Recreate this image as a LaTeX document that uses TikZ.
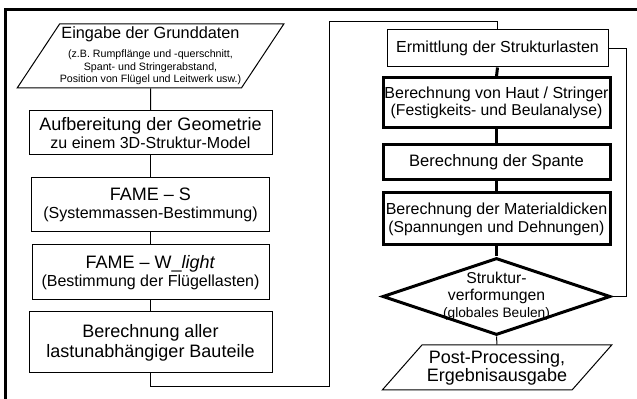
\documentclass[tikz,border=0pt]{standalone}
\usepackage{fontspec}
\setmainfont{Liberation Sans}
\usetikzlibrary{shapes.geometric}

\tikzset{every picture/.style={line width=0.75pt}}
\tikzset{
  stepbox/.style={draw, rectangle, inner sep=0pt, align=center},
  heavybox/.style={stepbox, line width=2.25pt},
  iobox/.style={draw, trapezium, trapezium stretches=true, inner sep=0pt, align=center},
  heavyline/.style={line width=2.25pt},
}

\begin{document}
\begin{tikzpicture}[x=0.75pt,y=0.75pt,yscale=-1,xscale=1]
\useasboundingbox (0,0) rectangle (637,399);
\clip (0,0) rectangle (637,399);

%Frame
\draw [line width=2.25pt] (5,10) rectangle (660,420);

%Left column
\node [iobox, trapezium left angle=53.7, trapezium right angle=126.3, minimum width=200.25pt, minimum height=48pt, font=\fontsize{8}{9.4}\selectfont] (eingabe) at (150.5,56)
  {{\fontsize{12.2}{14}\selectfont Eingabe der Grunddaten}\\[4.5pt](z.B. Rumpflänge und -querschnitt,\\Spant- und Stringerabstand,\\Position von Flügel und Leitwerk usw.)};
\node [stepbox, minimum width=182.25pt, minimum height=33pt, font=\fontsize{12}{13}\selectfont] (aufb) at (150.5,133)
  {{\fontsize{13.5}{15}\selectfont Aufbereitung der Geometrie}\\zu einem 3D-Struktur-Model};
\node [stepbox, minimum width=178.5pt, minimum height=40.5pt, font=\fontsize{12}{13}\selectfont] (fames) at (150.5,205)
  {{\fontsize{13.5}{15}\selectfont FAME – S}\\(Systemmassen-Bestimmung)};
\node [stepbox, minimum width=177.75pt, minimum height=41.25pt, font=\fontsize{12}{13}\selectfont] (famew) at (150.5,272.5)
  {{\fontsize{13.5}{15}\selectfont FAME – W\_\textit{light}}\\(Bestimmung der Flügellasten)};
\node [stepbox, minimum width=182.25pt, minimum height=45.75pt, font=\fontsize{13.5}{15}\selectfont] (bauteile) at (150.5,342.5)
  {Berechnung aller\\lastunabhängiger Bauteile};

%Right column
\node [stepbox, minimum width=165.75pt, minimum height=27.75pt, font=\fontsize{12}{13}\selectfont] (ermittlung) at (497.5,48.5)
  {Ermittlung der Strukturlasten};
\node [heavybox, minimum width=170.25pt, minimum height=37.5pt, font=\fontsize{11.8}{13}\selectfont] (haut) at (496.5,103)
  {{\fontsize{12}{13}\selectfont Berechnung von Haut / Stringer}\\(Festigkeits- und Beulanalyse)};
\node [heavybox, minimum width=170.25pt, minimum height=26.25pt, font=\fontsize{12.4}{14}\selectfont] (spante) at (496.5,162.5)
  {Berechnung der Spante};
\node [heavybox, minimum width=170.25pt, minimum height=39pt, font=\fontsize{11.8}{13.5}\selectfont] (material) at (496.5,219)
  {{\fontsize{12}{13}\selectfont Berechnung der Materialdicken}\\(Spannungen und Dehnungen)};
\node [draw, diamond, aspect=2.96, inner sep=-6pt, align=center, line width=2.25pt, minimum width=171pt, minimum height=57.75pt, font=\fontsize{10.3}{12.75}\selectfont] (check) at (496.5,296.5)
  {{\fontsize{11.8}{13.5}\selectfont Struktur-}\\{\fontsize{11.8}{13.5}\selectfont verformungen}\\(globales Beulen)};
\node [iobox, trapezium left angle=43.2, trapezium right angle=136.8, minimum width=172.5pt, minimum height=33.75pt, font=\fontsize{13.5}{13.5}\selectfont] (post) at (497,367.5)
  {Post-Processing,\\Ergebnisausgabe};

%Connectors
\coordinate (loopbot) at (329,387);
\coordinate (looptop) at (329,22);
\draw (eingabe.south) -- (aufb.north);
\draw (aufb.south) -- (fames.north);
\draw (fames.south) -- (famew.north);
\draw (famew.south) -- (bauteile.north);
\draw (bauteile.south) |- (loopbot) -- (looptop) -| (ermittlung.north);
\draw [heavyline] (ermittlung.south) -- (haut.north);
\draw [heavyline] (haut.south) -- (spante.north);
\draw [heavyline] (spante.south) -- (material.north);
\draw [heavyline] (material.south) -- (check.north);
\draw (check.south) -- (post.north);
\draw (check.east) -- ++(14,0) |- (ermittlung.east);

\end{tikzpicture}
\end{document}
